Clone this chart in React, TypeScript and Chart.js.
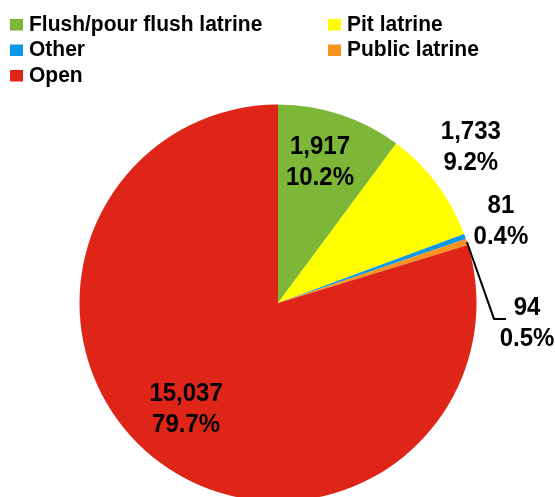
import React, { useEffect, useRef } from "react";
import { Chart, registerables } from "chart.js";

Chart.register(...registerables);

const categories = ["Flush/pour flush latrine", "Pit latrine", "Other", "Public latrine", "Open"];
const counts = [1917, 1733, 81, 94, 15037];
const colors = ["#7DB737", "#FFFF00", "#0B98E8", "#F7931E", "#DF2518"];

// label placement (layout only): angle offset (deg) from slice middle, radius factor
const labelPlacement = [
  { dAngle: -1.7, rf: 0.74 },
  { dAngle: -1.95, rf: 1.247 },
  { dAngle: -0.45, rf: 1.195 },
  { dAngle: 22.7, rf: 1.259 },
  { dAngle: 4.4, rf: 0.707 },
];
const leaderIndex = 3;

const W = 555;
const H = 497;
const CANVAS_H = 600;

const FONT = "'Liberation Sans', Arial, Helvetica, sans-serif";
const TEXT_SY = 1.06;

function drawText(ctx: CanvasRenderingContext2D, s: string, x: number, y: number) {
  ctx.save();
  ctx.translate(x, y);
  ctx.scale(1, TEXT_SY);
  ctx.fillText(s, 0, 0);
  ctx.restore();
}

const overlayPlugin = {
  id: "overlay",
  afterDraw(chart: any) {
    const ctx: CanvasRenderingContext2D = chart.ctx;
    const meta = chart.getDatasetMeta(0);
    const data: number[] = chart.data.datasets[0].data;
    const total = data.reduce((a: number, b: number) => a + b, 0);
    const labels: string[] = chart.data.labels;
    const bg: string[] = chart.data.datasets[0].backgroundColor;

    ctx.save();
    // legend: 2 columns, row-major
    ctx.font = "bold 21px " + FONT;
    ctx.textAlign = "left";
    ctx.textBaseline = "alphabetic";
    const colX = [10, 328];
    const rowY = [19, 44.5, 70];
    labels.forEach((lab, i) => {
      const col = i % 2;
      const row = Math.floor(i / 2);
      const x = colX[col];
      const y = rowY[row];
      ctx.fillStyle = bg[i];
      ctx.fillRect(x, y, 13, 11.5);
      ctx.fillStyle = "#000";
      drawText(ctx, lab, x + 19, y + 11.8);
    });

    // data labels
    ctx.font = "bold 24px " + FONT;
    ctx.textAlign = "center";
    ctx.textBaseline = "middle";
    meta.data.forEach((arc: any, i: number) => {
      const p = arc.getProps(["x", "y", "startAngle", "endAngle", "outerRadius"], true);
      const mid = (p.startAngle + p.endAngle) / 2;
      const pl = labelPlacement[i];
      const a = mid + (pl.dAngle * Math.PI) / 180;
      const lx = p.x + Math.cos(a) * p.outerRadius * pl.rf;
      const ly = p.y + Math.sin(a) * p.outerRadius * pl.rf;
      const v = data[i];
      const pct = ((v / total) * 100).toFixed(1) + "%";
      ctx.fillStyle = "#000";
      drawText(ctx, v.toLocaleString("en-US"), lx, ly - 15.5);
      drawText(ctx, pct, lx, ly + 15.5);
      if (i === leaderIndex) {
        const ex = p.x + Math.cos(mid) * p.outerRadius;
        const ey = p.y + Math.sin(mid) * p.outerRadius;
        ctx.strokeStyle = "#000";
        ctx.lineWidth = 2;
        ctx.beginPath();
        ctx.moveTo(ex, ey);
        ctx.lineTo(lx - 33, ly - 5);
        ctx.lineTo(lx - 21, ly - 5);
        ctx.stroke();
      }
    });
    ctx.restore();
  },
};

export default function App() {
  const ref = useRef<HTMLCanvasElement | null>(null);
  useEffect(() => {
    if (!ref.current) return;
    const chart = new Chart(ref.current, {
      type: "pie",
      data: {
        labels: categories,
        datasets: [
          {
            data: counts,
            backgroundColor: colors,
            borderWidth: 0,
          },
        ],
      },
      options: {
        responsive: false,
        animation: false,
        events: [],
        layout: { padding: { left: 79.5, right: 78.5, top: 104.5, bottom: 98.5 } },
        plugins: {
          legend: { display: false },
          tooltip: { enabled: false },
        },
      },
      plugins: [overlayPlugin],
    });
    return () => chart.destroy();
  }, []);
  return (
    <div
      style={{
        position: "fixed",
        left: 0,
        top: 0,
        width: W,
        height: H,
        overflow: "hidden",
        background: "#fff",
      }}
    >
      <canvas ref={ref} width={W} height={CANVAS_H} style={{ width: W, height: CANVAS_H, display: "block" }} />
    </div>
  );
}
